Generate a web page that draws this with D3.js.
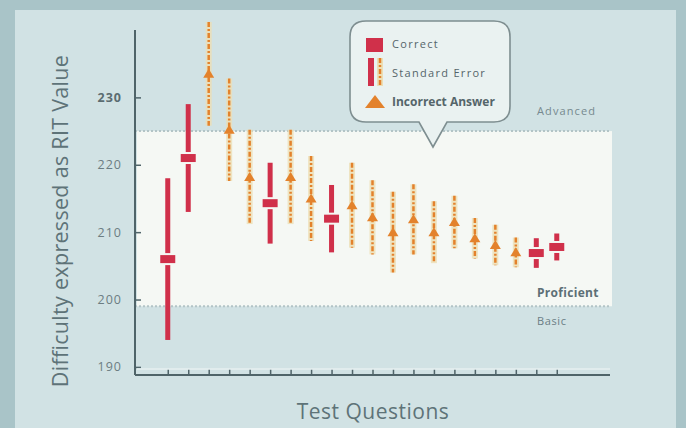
<!DOCTYPE html>
<html><head><meta charset="utf-8">
<script src="https://cdn.jsdelivr.net/npm/d3@7"></script>
<style>body{margin:0;background:#a9c4c8;}svg{display:block;font-family:"Open Sans",sans-serif;}</style>
</head><body>
<svg id="c" width="686" height="428"></svg>
<script>
const questions = d3.range(1, 21);
const answerType = ["correct","correct","incorrect","incorrect","incorrect","correct","incorrect","incorrect","correct",
  "incorrect","incorrect","incorrect","incorrect","incorrect","incorrect","incorrect","incorrect","incorrect","correct","correct"];
const difficulty = [206, 221, 233.5, 225.2, 218.2, 214.3, 218.2, 215, 212, 214, 212.2, 210, 211.9, 210, 211.5, 209.1, 208.1, 207, 206.9, 207.8];
const stdError = [12, 8, 7.7, 7.6, 7, 6, 7, 6.3, 5, 6.3, 5.5, 6, 5.2, 4.6, 3.9, 3, 3, 2.2, 2.2, 2];
const yTicks = [190, 200, 210, 220, 230];
const bands = [{name:"Advanced", lo:225, hi:240}, {name:"Proficient", lo:199, hi:225}, {name:"Basic", lo:188.8, hi:199}];
const legendItems = ["Correct", "Standard Error", "Incorrect Answer"];

const RED = "#d0304a", ORANGE = "#e3822c", HALO = "#ecdfb4", AXIS = "#4f6469";
const svg = d3.select("#c");
const x = d3.scaleLinear().domain([-0.6, 22.6]).range([135, 610]);
const y = d3.scaleLinear().domain([188.8, 240]).range([375, 30]);

// panel
svg.append("rect").attr("x", 15).attr("y", 10).attr("width", 661).attr("height", 418).attr("fill", "#d1e2e4");

// proficient band
const pb = bands[1];
svg.append("rect").attr("x", x(-0.6)+2).attr("y", y(pb.hi)).attr("width", x(22.6)-x(-0.6)).attr("height", y(pb.lo)-y(pb.hi))
  .attr("fill", "#f5f8f4");
[pb.hi, pb.lo].forEach(v => svg.append("line").attr("x1", x(-0.6)).attr("x2", x(22.6)).attr("y1", y(v)).attr("y2", y(v))
  .attr("stroke", "#b3c4c6").attr("stroke-width", 2).attr("stroke-dasharray", "2 2"));

// band labels
svg.append("text").attr("x", 537).attr("y", y(225)-16).text(bands[0].name).attr("font-size", 11).attr("fill", "#76898f").attr("letter-spacing", 1.1);
svg.append("text").attr("x", 537).attr("y", y(199)-9).text(bands[1].name).attr("font-size", 12).attr("font-weight", 700).attr("fill", "#5d6f76").attr("letter-spacing", 0.3);
svg.append("text").attr("x", 537).attr("y", y(199)+19).text(bands[2].name).attr("font-size", 11).attr("fill", "#6b7e85").attr("letter-spacing", 0.6);

// axes
const yAxis = d3.axisRight(y).tickValues(yTicks).tickSize(6).tickFormat("");
const gy = svg.append("g").attr("transform", `translate(${x(-0.6)},0)`).call(yAxis);
gy.select(".domain").attr("stroke", AXIS).attr("stroke-width", 2).attr("d", `M0,${y(240)}V${y(188.8)}`);
gy.selectAll(".tick line").attr("stroke", AXIS).attr("stroke-width", 1.5);
svg.selectAll(".ylab").data(yTicks).join("text").attr("class", "ylab")
  .attr("x", 122).attr("y", d => y(d)).attr("dy", "0.35em").attr("text-anchor", "end")
  .attr("font-size", 12.5).attr("letter-spacing", 1).attr("fill", d => d === 230 ? "#5b6c70" : "#6c7d82")
  .attr("font-weight", d => d === 230 ? 700 : 400).text(d => d);

const xAxis = d3.axisTop(x).tickValues(questions).tickSize(6).tickFormat("");
const gx = svg.append("g").attr("transform", `translate(0,${y(188.8)})`).call(xAxis);
gx.select(".domain").attr("stroke", AXIS).attr("stroke-width", 2).attr("d", `M${x(-0.6)},0H${x(22.6)}`);
gx.selectAll(".tick line").attr("stroke", AXIS).attr("stroke-width", 1.5);
svg.append("line").attr("x1", x(-0.6)+2).attr("x2", x(22.6)).attr("y1", y(188.8)-6).attr("y2", y(188.8)-6)
  .attr("stroke", "#e6eff0").attr("stroke-width", 1.5);

// titles
svg.append("text").attr("transform", `translate(68,221) rotate(-90)`).attr("text-anchor", "middle")
  .attr("font-size", 21.5).attr("letter-spacing", 0.3).attr("fill", "#5e7378").text("Difficulty expressed as RIT Value");
svg.append("text").attr("x", 373).attr("y", 419).attr("text-anchor", "middle").attr("font-size", 21).attr("letter-spacing", 0.5)
  .attr("fill", "#5e7378").text("Test Questions");

// data
const data = questions.map((q, i) => ({q, type: answerType[i], v: difficulty[i], se: stdError[i]}));
const g = svg.append("g");
data.forEach(d => {
  const cx = x(d.q), cy = y(d.v), top = y(d.v + d.se), bot = y(d.v - d.se);
  if (d.type === "correct") {
    g.append("rect").attr("x", cx-2.5).attr("y", top).attr("width", 5).attr("height", bot-top).attr("fill", RED);
    g.append("rect").attr("x", cx-9).attr("y", cy-6).attr("width", 18).attr("height", 12).attr("fill", "#f5f8f4");
    g.append("rect").attr("x", cx-7.5).attr("y", cy-4).attr("width", 15).attr("height", 8).attr("fill", RED);
  } else {
    g.append("rect").attr("x", cx-3).attr("y", top).attr("width", 6).attr("height", bot-top).attr("fill", HALO).attr("opacity", 0.8);
    g.append("line").attr("x1", cx).attr("x2", cx).attr("y1", top).attr("y2", bot).attr("stroke", ORANGE)
      .attr("stroke-width", 2.5).attr("stroke-dasharray", "5 2 2 2");
    g.append("path").attr("d", `M${cx-5.5},${cy+4}L${cx},${cy-5}L${cx+5.5},${cy+4}Z`).attr("fill", ORANGE);
  }
});

// legend callout
const L = {x0:350, x1:510, y0:21, y1:122, r:16};
svg.append("path").attr("d",
  `M${L.x0+L.r},${L.y0}H${L.x1-L.r}Q${L.x1},${L.y0} ${L.x1},${L.y0+L.r}V${L.y1-L.r}Q${L.x1},${L.y1} ${L.x1-L.r},${L.y1}` +
  `H447L433,147L419,${L.y1}H${L.x0+L.r}Q${L.x0},${L.y1} ${L.x0},${L.y1-L.r}V${L.y0+L.r}Q${L.x0},${L.y0} ${L.x0+L.r},${L.y0}Z`)
  .attr("fill", "#eaf2f1").attr("stroke", "#7e8e90").attr("stroke-width", 1.6);
svg.append("rect").attr("x", 366).attr("y", 38).attr("width", 17).attr("height", 14).attr("fill", RED);
svg.append("rect").attr("x", 368).attr("y", 58).attr("width", 6).attr("height", 28).attr("fill", RED);
svg.append("rect").attr("x", 377).attr("y", 58).attr("width", 6).attr("height", 28).attr("fill", HALO);
svg.append("line").attr("x1", 380).attr("x2", 380).attr("y1", 58).attr("y2", 86).attr("stroke", ORANGE).attr("stroke-width", 2.5).attr("stroke-dasharray", "5 2 2 2");
svg.append("path").attr("d", "M365,108L375,95L385,108Z").attr("fill", ORANGE);
svg.selectAll(".leg").data(legendItems).join("text").attr("class", "leg")
  .attr("x", 392).attr("y", (d, i) => 44 + i * 29).attr("dy", "0.35em").attr("font-size", (d, i) => i === 2 ? 12 : 11)
  .attr("letter-spacing", (d, i) => i === 2 ? 0 : 1.3)
  .attr("font-weight", (d, i) => i === 2 ? 700 : 400).attr("fill", "#55656a").text(d => d);
</script>
</body></html>
